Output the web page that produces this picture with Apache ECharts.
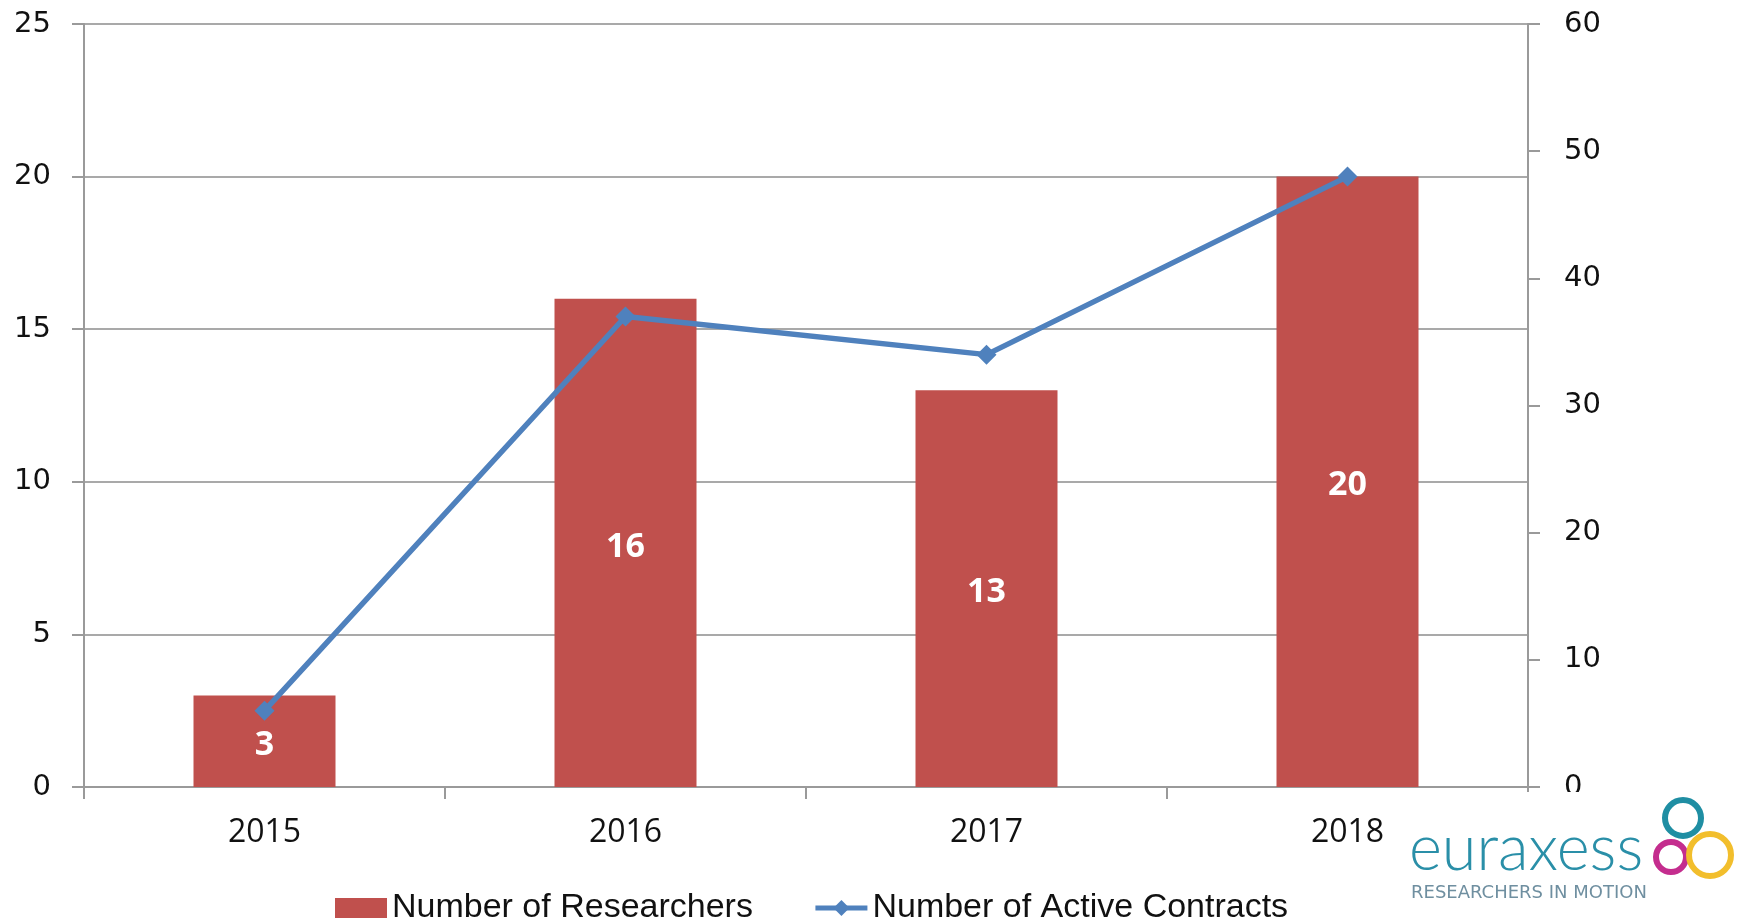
<!DOCTYPE html>
<html>
<head>
<meta charset="utf-8">
<script src="https://cdn.jsdelivr.net/npm/echarts@6/dist/echarts.min.js"></script>
<style>
  html, body { margin: 0; padding: 0; background: #fff; }
  #chart { width: 1739px; height: 920px; }
</style>
</head>
<body>
<div id="chart"></div>
<script>
var years = ['2015', '2016', '2017', '2018']
var researchers = [3, 16, 13, 20]
var contracts = [6, 37, 34, 48]

var chart = echarts.init(document.getElementById('chart'))

var axisGray = '#9a9a9a'

var option = {
    backgroundColor: '#fff',
    animation: false,
    grid: { left: 84, right: 211, top: 24, bottom: 133 },
    legend: {
        left: 330,
        top: 886,
        itemWidth: 52,
        itemHeight: 20,
        itemGap: 60,
        textStyle: { fontFamily: 'Liberation Sans', fontSize: 34, color: '#111' },
        data: [
            { name: 'Number of Researchers', icon: 'rect' },
            { name: 'Number of Active Contracts', lineStyle: { width: 5 } }
        ]
    },
    xAxis: {
        type: 'category',
        data: years,
        axisLine: { lineStyle: { color: axisGray, width: 2 } },
        axisTick: { show: true, length: 12, lineStyle: { color: axisGray, width: 2 } },
        axisLabel: { margin: 30, fontFamily: 'Open Sans', fontSize: 32, color: '#111' }
    },
    yAxis: [{
        type: 'value',
        min: 0,
        max: 25,
        interval: 5,
        axisLine: { show: true, lineStyle: { color: axisGray, width: 2 } },
        axisTick: { show: true, length: 12, lineStyle: { color: axisGray, width: 2 } },
        splitLine: { lineStyle: { color: '#8c8c8c', width: 1.5 } },
        axisLabel: { margin: 33, fontFamily: 'DejaVu Sans', fontSize: 29, color: '#111' }
    }, {
        type: 'value',
        min: 0,
        max: 60,
        interval: 10,
        position: 'right',
        axisLine: { show: true, lineStyle: { color: axisGray, width: 2 } },
        axisTick: { show: true, length: 12, lineStyle: { color: axisGray, width: 2 } },
        splitLine: { show: false },
        axisLabel: { margin: 36, fontFamily: 'DejaVu Sans', fontSize: 29, color: '#111' }
    }],
    series: [{
        name: 'Number of Researchers',
        type: 'bar',
        data: researchers,
        barWidth: 142,
        itemStyle: { color: '#C0504D' },
        label: {
            show: true,
            position: 'inside',
            offset: [0, 4],
            color: '#fff',
            fontFamily: 'Open Sans',
            fontWeight: 'bold',
            fontSize: 34
        }
    }, {
        name: 'Number of Active Contracts',
        type: 'line',
        yAxisIndex: 1,
        data: contracts,
        symbol: 'diamond',
        symbolSize: 20,
        lineStyle: { color: '#4F81BD', width: 5.5 },
        itemStyle: { color: '#4F81BD' }
    }],
    graphic: [
        // logo en bas à droite
        { type: 'rect', z: 100, shape: { x: 1400, y: 792, width: 339, height: 128 }, style: { fill: '#fff' } },
        { type: 'text', z: 101, left: 1409, top: 818,
          style: { text: 'euraxess', font: '300 63px Lato', fill: '#2a8fa8' } },
        { type: 'text', z: 101, left: 1411, top: 884,
          style: { text: 'RESEARCHERS IN MOTION', font: '18px "DejaVu Sans"', fill: '#6f8fa0' } },
        { type: 'circle', z: 101, shape: { cx: 1683, cy: 818, r: 18 }, style: { fill: 'none', stroke: '#1f8ea3', lineWidth: 6 } },
        { type: 'circle', z: 101, shape: { cx: 1671, cy: 857, r: 15 }, style: { fill: 'none', stroke: '#c42d8e', lineWidth: 6 } },
        { type: 'circle', z: 101, shape: { cx: 1710, cy: 855, r: 21 }, style: { fill: 'none', stroke: '#f2be2c', lineWidth: 6 } }
    ]
}

chart.setOption(option)
</script>
</body>
</html>
